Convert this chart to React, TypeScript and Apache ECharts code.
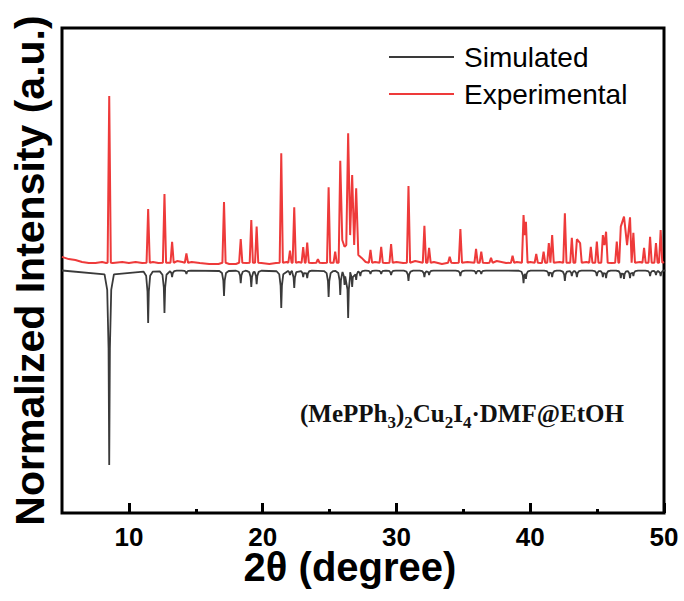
import React, { useEffect, useRef } from "react";
import * as echarts from "echarts";

// ---- axis / ticks ----
const X_MIN = 5;
const X_MAX = 50;
const Y_MIN = -100;
const Y_MAX = 100;
const xMajorTicks = [10, 20, 30, 40, 50];
const xMinorTicks = [15, 25, 35, 45];

// ---- experimental pattern (red, offset above) ----
const EXP_BASE = 3.2;
const expPeakPos = [8.53, 11.44, 12.66, 13.23, 14.3, 17.11, 18.36, 19.15, 19.55, 21.39, 22.04, 22.36, 23.03, 23.33, 24.13, 24.93, 25.42, 25.8, 26.12, 26.39, 26.69, 26.99, 28.06, 28.86, 29.6, 30.9, 32.09, 32.44, 33.98, 34.78, 35.95, 36.34, 37.07, 38.68, 39.5, 39.68, 40.45, 41.0, 41.39, 41.64, 42.59, 43.11, 43.49, 43.73, 44.53, 44.98, 45.43, 45.67, 46.47, 46.77, 47.01, 47.46, 47.71, 48.51, 48.96, 49.4, 49.75];
const expPeakTop = [72.0, 25.4, 31.5, 11.8, 7.0, 28.2, 13.0, 20.8, 18.1, 48.3, 8.2, 26.1, 9.7, 11.5, 4.7, 34.3, 7.8, 45.2, 9.8, 56.6, 39.4, 33.9, 8.5, 9.8, 10.9, 34.8, 18.4, 9.3, 5.7, 17.1, 8.9, 7.8, 5.2, 6.1, 22.9, 20.1, 6.8, 7.8, 11.3, 14.6, 23.6, 13.5, 12.9, 11.3, 9.8, 11.9, 14.6, 16.0, 11.9, 18.1, 22.2, 21.9, 15.5, 9.3, 13.9, 11.3, 16.7];
const expValleyPos = [25.95, 26.25, 26.54, 26.84, 27.15, 39.59, 45.55, 47.24];
const expValleyVal = [12.6, 10.5, 14.6, 10.5, 6.4, 14.6, 10.5, 10.5];
const expBasePos = [5.0, 5.5, 6.0, 6.5, 7.0, 7.5, 8.0, 8.3, 8.8, 9.5, 10.0, 10.5, 11.0, 11.8, 12.2, 13.6, 14.0, 14.7, 15.3, 16.0, 16.7, 17.5, 18.0, 18.8, 19.9, 20.5, 21.0, 21.8, 22.7, 23.7, 24.5, 27.4, 27.7, 28.4, 29.2, 30.0, 30.5, 31.4, 32.8, 33.4, 34.3, 35.3, 36.8, 37.5, 38.2, 39.0, 40.0, 40.8, 42.2, 44.2, 46.1, 48.2, 49.2, 50.0];
const expBaseVal = [5.6, 4.7, 4.3, 3.5, 3.1, 3.1, 3.5, 3.1, 3.1, 3.5, 3.1, 3.5, 3.1, 3.5, 3.1, 3.9, 3.5, 3.5, 3.1, 2.7, 2.7, 2.7, 2.7, 3.1, 3.1, 2.7, 3.1, 3.5, 3.5, 3.1, 3.1, 5.2, 3.5, 3.5, 3.1, 3.5, 3.1, 3.9, 3.5, 2.7, 3.1, 3.5, 3.1, 3.9, 3.1, 3.5, 3.5, 3.1, 3.5, 3.5, 3.1, 3.5, 3.5, 3.5];

// ---- simulated pattern (black, inverted) ----
const simPeakPos = [8.53, 11.44, 12.66, 13.23, 14.3, 17.11, 18.36, 19.15, 19.55, 21.39, 22.04, 22.36, 23.03, 23.33, 24.93, 25.8, 26.12, 26.39, 26.69, 26.99, 27.3, 28.06, 28.86, 29.6, 30.9, 32.09, 32.44, 34.78, 35.95, 36.34, 39.5, 39.68, 41.39, 41.64, 42.59, 43.11, 43.49, 44.98, 45.43, 45.67, 46.77, 47.01, 47.46, 47.71, 48.96, 49.4, 49.75];
const simPeakDepth = [80.2, 21.6, 17.5, 2.7, 1.4, 10.5, 5.2, 6.8, 5.6, 15.5, 1.9, 7.2, 2.7, 3.1, 10.9, 10.1, 6.0, 19.6, 6.8, 3.9, 2.3, 1.4, 1.4, 1.9, 4.3, 2.7, 1.9, 2.3, 1.4, 1.4, 5.2, 3.5, 2.3, 2.7, 4.3, 2.3, 2.7, 2.3, 2.7, 3.1, 3.1, 3.5, 3.1, 2.3, 2.3, 1.9, 2.3];

// peak profile shapes (offset in degrees, fraction of peak height)
const expShapeOffset = [-0.12, 0.12];
const simShapeOffset = [-0.35, -0.15, -0.05, 0.05, 0.15, 0.35];
const simShapeFrac = [0.02, 0.1, 0.4, 0.4, 0.1, 0.02];

function buildExperimental(): number[][] {
  const anchors = [...expPeakPos, ...expValleyPos];
  const pts: number[][] = [];
  expPeakPos.forEach((p, i) => {
    pts.push([p, expPeakTop[i]]);
    expShapeOffset.forEach((o) => {
      const x = p + o;
      const clash = anchors.some((a) => a !== p && Math.abs(x - a) <= Math.abs(o));
      if (!clash) pts.push([x, EXP_BASE]);
    });
  });
  expValleyPos.forEach((v, i) => pts.push([v, expValleyVal[i]]));
  expBasePos.forEach((b, i) => {
    if (!anchors.some((a) => Math.abs(b - a) < 0.2)) pts.push([b, expBaseVal[i]]);
  });
  pts.sort((a, b) => a[0] - b[0]);
  return pts;
}

function buildSimulated(): number[][] {
  const pts: number[][] = [[X_MIN, 0], [X_MAX, 0]];
  simPeakPos.forEach((p, i) => {
    pts.push([p, -simPeakDepth[i]]);
    simShapeOffset.forEach((o, k) => {
      const x = p + o;
      const clash = simPeakPos.some((a) => a !== p && Math.abs(x - a) <= Math.abs(o));
      if (!clash) pts.push([x, -simPeakDepth[i] * simShapeFrac[k]]);
    });
  });
  pts.sort((a, b) => a[0] - b[0]);
  return pts;
}

const SANS = '"Liberation Sans", Arial, Helvetica, sans-serif';
const SERIF = '"Liberation Serif", "Times New Roman", serif';

const GRID_RECT = { left: 62, right: 20, top: 28, bottom: 88 };
const PLOT_HEIGHT_PX = 601 - GRID_RECT.top - GRID_RECT.bottom;
const MAJOR_TICK_PX = 10;

// major tick marks (inside, at the bottom frame), placed in data coordinates
const majorTickLen = (MAJOR_TICK_PX * (Y_MAX - Y_MIN)) / PLOT_HEIGHT_PX;
const majorTickLines = xMajorTicks.map((v) => [
  { coord: [v, Y_MIN] },
  { coord: [v, Y_MIN + majorTickLen] },
]);

export default function App() {
  const ref = useRef<HTMLDivElement>(null);
  useEffect(() => {
    if (!ref.current) return;
    const chart = echarts.init(ref.current, undefined, { renderer: "svg" });
    const option = {
      animation: false,
      backgroundColor: "#ffffff",
      grid: {
        ...GRID_RECT,
        show: true,
        borderColor: "#000",
        borderWidth: 3,
        backgroundColor: "transparent",
      },
      legend: {
        data: ["Simulated", "Experimental"],
        orient: "vertical",
        left: 389,
        top: 43,
        padding: 0,
        itemWidth: 65,
        itemHeight: 2,
        itemGap: 9,
        icon: "rect",
        selectedMode: false,
        textStyle: {
          fontSize: 28,
          fontFamily: SANS,
          color: "#000",
          lineHeight: 28,
          padding: [0, 0, 0, 5],
        },
      },
      xAxis: [
        {
          type: "value",
          position: "bottom",
          min: X_MIN,
          max: X_MAX,
          name: "2θ (degree)",
          nameLocation: "middle",
          nameGap: 34,
          nameMoveOverlap: false,
          nameTextStyle: {
            fontSize: 40,
            fontWeight: "bold",
            fontFamily: SANS,
            color: "#000",
            padding: [0, 26, 0, 0],
          },
          axisLine: { show: false, onZero: false },
          splitLine: { show: false },
          axisTick: { show: false },
          axisLabel: {
            show: true,
            customValues: xMajorTicks,
            margin: 11,
            fontSize: 26,
            lineHeight: 26,
            fontWeight: "bold",
            fontFamily: SANS,
            color: "#000",
          },
        },
        {
          type: "value",
          position: "bottom",
          min: X_MIN,
          max: X_MAX,
          axisLine: { show: false, onZero: false },
          splitLine: { show: false },
          axisLabel: { show: false },
          axisTick: {
            show: true,
            inside: true,
            length: 4,
            customValues: xMinorTicks,
            lineStyle: { color: "#000", width: 3 },
          },
        },
      ],
      yAxis: {
        type: "value",
        min: Y_MIN,
        max: Y_MAX,
        name: "Normalized Intensity (a.u.)",
        nameLocation: "middle",
        nameGap: 12,
        nameTextStyle: {
          fontSize: 41,
          fontWeight: "bold",
          fontFamily: SANS,
          color: "#000",
        },
        axisLine: { show: false },
        axisTick: { show: false },
        axisLabel: { show: false },
        splitLine: { show: false },
      },
      graphic: [
        {
          type: "text",
          left: 300,
          top: 401,
          z: 10,
          style: {
            text: "{m|(MePPh}{s|3}{m|)}{s|2}{m|Cu}{s|2}{m|I}{s|4}{m|·DMF@EtOH}",
            fill: "#111",
            fontSize: 25,
            fontWeight: "bold",
            fontFamily: SERIF,
            rich: {
              m: { fontSize: 25, fontWeight: "bold", fontFamily: SERIF, lineHeight: 34, fill: "#111" },
              s: { fontSize: 17, fontWeight: "bold", fontFamily: SERIF, lineHeight: 17, verticalAlign: "bottom", fill: "#111" },
            },
          },
        },
      ],
      series: [
        {
          name: "Experimental",
          type: "line",
          xAxisIndex: 0,
          yAxisIndex: 0,
          data: buildExperimental(),
          showSymbol: false,
          symbol: "none",
          color: "#ee3a3a",
          lineStyle: { color: "#ee3a3a", width: 2 },
          z: 3,
        },
        {
          name: "Simulated",
          type: "line",
          xAxisIndex: 0,
          yAxisIndex: 0,
          data: buildSimulated(),
          showSymbol: false,
          symbol: "none",
          color: "#3a3a3a",
          lineStyle: { color: "#3a3a3a", width: 1.8 },
          z: 2,
          markLine: {
            silent: true,
            symbol: ["none", "none"],
            label: { show: false },
            emphasis: { disabled: true },
            lineStyle: { color: "#000", width: 3, type: "solid" },
            data: majorTickLines,
          },
        },
      ],
    };
    chart.setOption(option as any);
    return () => chart.dispose();
  }, []);
  return (
    <div
      ref={ref}
      style={{ position: "fixed", left: 0, top: 0, width: 684, height: 601, background: "#fff" }}
    />
  );
}
